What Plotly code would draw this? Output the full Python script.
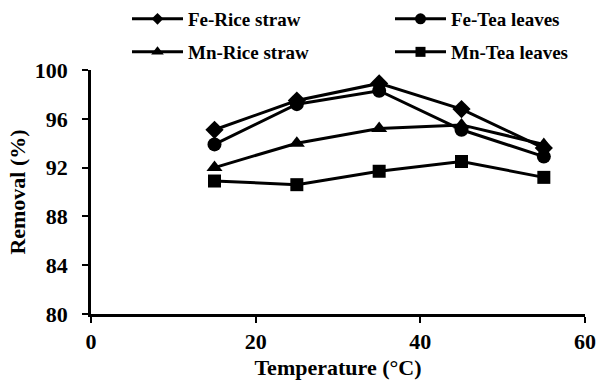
import plotly.graph_objects as go

temperature = [15, 25, 35, 45, 55]
fe_rice_straw = [95.1, 97.5, 98.9, 96.8, 93.6]
fe_tea_leaves = [93.9, 97.2, 98.3, 95.1, 92.9]
mn_rice_straw = [92.0, 94.0, 95.2, 95.5, 93.9]
mn_tea_leaves = [90.9, 90.6, 91.7, 92.5, 91.2]

x_ticks = [0, 20, 40, 60]
y_ticks = [80, 84, 88, 92, 96, 100]

FONT = "Liberation Serif"
W, H = 606, 385

# name, values, marker symbol, plot marker size, legend marker size,
# legend id, legend left (px), legend centre (px from top)
series = [
    ("Fe-Rice straw", fe_rice_straw, "diamond", 14, 9, "legend", 127, 19),
    ("Fe-Tea leaves", fe_tea_leaves, "circle", 14, 11, "legend2", 390, 19),
    ("Mn-Rice straw", mn_rice_straw, "triangle-up", 14, 11, "legend3", 127, 52),
    ("Mn-Tea leaves", mn_tea_leaves, "square", 13, 10, "legend4", 390, 52),
]

fig = go.Figure()
legends = {}
for name, vals, sym, size, lsize, leg, lx, ly in series:
    fig.add_trace(go.Scatter(
        x=temperature, y=vals, name=name, mode="lines+markers",
        line=dict(color="black", width=3),
        marker=dict(symbol=sym, size=size, color="black"),
        showlegend=False,
    ))
    # legend key with a smaller marker than the plotted points
    fig.add_trace(go.Scatter(
        x=[None], y=[None], name=name, mode="lines+markers",
        line=dict(color="black", width=3),
        marker=dict(symbol=sym, size=lsize, color="black"),
        legend=leg, showlegend=True,
    ))
    legends[leg] = dict(
        x=lx / W, y=1 - ly / H, xref="container", yref="container",
        xanchor="left", yanchor="middle", orientation="h",
        font=dict(family=FONT, size=19, color="black", weight="bold"),
        bgcolor="rgba(0,0,0,0)", itemwidth=51,
    )

axis_font = dict(family=FONT, size=22, color="black", weight="bold")

fig.update_layout(
    width=W, height=H,
    margin=dict(l=91, r=21, t=70, b=71, autoexpand=False),
    paper_bgcolor="white", plot_bgcolor="white",
    xaxis=dict(
        range=[0, 60], tickvals=x_ticks, showgrid=False, zeroline=False,
        showline=True, linecolor="black", linewidth=2.5,
        ticks="outside", ticklen=6, tickwidth=2, tickcolor="black",
        tickfont=axis_font, automargin=False,
        title=dict(text="Temperature (°C)", standoff=7, font=axis_font),
    ),
    yaxis=dict(
        range=[80, 100], tickvals=y_ticks, showgrid=False, zeroline=False,
        showline=True, linecolor="black", linewidth=2.5,
        ticks="outside", ticklen=6, tickwidth=2, tickcolor="black",
        tickfont=axis_font, automargin=False, ticklabelstandoff=10,
        title=dict(text="Removal (%)", standoff=4, font=axis_font),
    ),
    **legends,
)

fig.write_html("out.html")
